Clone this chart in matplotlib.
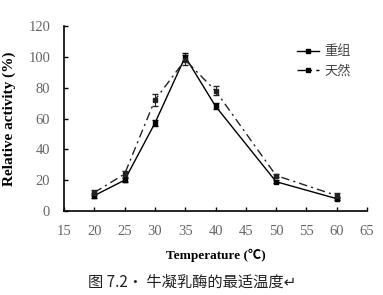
import numpy as np
import matplotlib.pyplot as plt
from matplotlib.lines import Line2D

plt.rcParams['font.family'] = ['Liberation Serif', 'Noto Sans CJK SC', 'DejaVu Sans']

temps = [20, 25, 30, 35, 40, 50, 60]
recomb = [10, 20, 57, 100, 68, 19, 8]
recomb_err = [1.5, 1.5, 2, 2.5, 2, 1, 1]
native = [12, 24, 72, 98, 78, 23, 10]
native_err = [1.5, 2, 4, 3, 3, 1, 1.5]
dashdot = (0, (6, 3, 1.5, 3))

fig = plt.figure(figsize=(3.83, 2.95), dpi=100)
ax = fig.add_axes([64 / 383, 1 - 211 / 295, (367 - 64) / 383, (211 - 26) / 295])

ax.errorbar(temps, recomb, yerr=recomb_err, color='black', lw=1.0, ls='-',
            marker='s', ms=2.2, capsize=2, elinewidth=0.7)
ax.errorbar(temps, native, yerr=native_err, color='#222222', lw=1.0,
            ls=dashdot, marker='s', ms=2.2, capsize=2, elinewidth=0.7)

ax.set_xlim(15, 65)
ax.set_ylim(0, 120)
ax.set_xticks(np.arange(15, 66, 5))
ax.set_yticks(np.arange(0, 121, 20))
ax.spines['top'].set_visible(False)
ax.spines['right'].set_visible(False)
ax.spines['left'].set_linewidth(1.2)
ax.spines['bottom'].set_linewidth(1.2)
ax.tick_params(direction='in', length=3, width=1, labelsize=10.5,
               labelcolor='#666666', pad=10)

ax.set_xlabel('Temperature (℃)', fontsize=9.5, fontweight='bold', labelpad=8)
ax.set_ylabel('Relative activity (%)', fontsize=11, fontweight='bold', labelpad=9)

handles = [Line2D([], [], color='black', lw=1.0, ls='-', marker='s', ms=2.2),
           Line2D([], [], color='black', lw=1.0, ls=dashdot, marker='s', ms=2.2)]
leg = ax.legend(handles, ['重组', '天然'], loc='upper left',
                bbox_to_anchor=(0.73, 0.96), frameon=False,
                prop={'family': ['Noto Sans CJK SC'], 'size': 9.5},
                handlelength=1.7, labelspacing=0.45, handletextpad=0.4)
for t in leg.get_texts():
    t.set_color('#444444')

fig.text(88 / 383, 1 - 282 / 295, '图 7.2· 牛凝乳酶的最适温度↵', ha='left', va='center',
         fontsize=11, family=['Noto Sans CJK SC', 'DejaVu Sans'], color='#222222')

fig.savefig('out.png', dpi=100)
